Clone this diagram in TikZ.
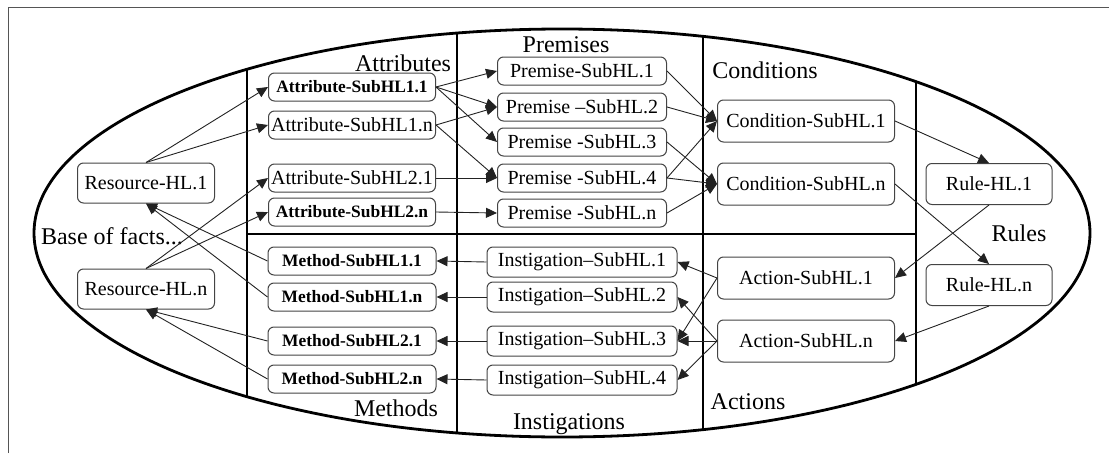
\documentclass[tikz,border=0pt]{standalone}
\usepackage{fontspec}
\setmainfont{Liberation Serif}
\usepackage{tikz}
\usetikzlibrary{arrows.meta}
\definecolor{frameGray}{HTML}{555555}
\definecolor{boxGray}{HTML}{444444}
\definecolor{linkGray}{HTML}{222222}

\begin{document}
\begin{tikzpicture}[x=0.5pt,y=-0.5pt,
  hlbox/.style={draw=boxGray,line width=0.5pt,rounded corners=3pt,inner sep=0pt,
    font=\fontsize{10}{12}\selectfont},
  boldbox/.style={hlbox,font=\fontsize{8.7}{10}\selectfont\bfseries},
  zone/.style={line width=1.4pt},
  zonelabel/.style={font=\fontsize{12}{14}\selectfont,inner sep=0pt},
  link/.style={linkGray,line width=0.45pt,-{Triangle[length=5.5pt,width=5pt]}}]
\useasboundingbox (0,0) rectangle (1109,455);
\draw[frameGray,line width=0.5pt] (8,453) -- (8,7) -- (1109,7);

% ellipse and zones
\draw[zone] (562,233) ellipse [x radius=528,y radius=204];
\begin{scope}
\clip (562,233) ellipse [x radius=528,y radius=204];
\foreach \xs in {247,457,703,916}
  \draw[zone] (\xs,0) -- (\xs,455);
\end{scope}
\draw[zone] (247,234) -- (916,234);

\node[zonelabel] at (403,63) {Attributes};
\node[zonelabel] at (566,45) {Premises};
\node[zonelabel] at (765,70) {Conditions};
\node[zonelabel] at (1019,233) {Rules};
\node[zonelabel] at (748,402) {Actions};
\node[zonelabel] at (569,424) {Instigations};
\node[zonelabel] at (396,408) {Methods};
\node[zonelabel] at (112,236) {Base of facts...};

% resources
\node[hlbox,minimum width=68.5pt,minimum height=20pt] (res1) at (146,183) {Resource-HL.1};
\node[hlbox,minimum width=68.5pt,minimum height=20pt] (resn) at (146,289) {Resource-HL.n};

% attributes and methods
\node[boldbox,minimum width=83.5pt,minimum height=14pt] (att11) at (352,87) {Attribute-SubHL1.1};
\node[hlbox,minimum width=83.5pt,minimum height=14pt] (att1n) at (352,125) {Attribute-SubHL1.n};
\node[hlbox,minimum width=83.5pt,minimum height=14pt] (att21) at (352,178) {Attribute-SubHL2.1};
\node[boldbox,minimum width=83.5pt,minimum height=14pt] (att2n) at (352,212) {Attribute-SubHL2.n};
\node[boldbox,minimum width=84pt,minimum height=14pt] (met11) at (352,261) {Method-SubHL1.1};
\node[boldbox,minimum width=84pt,minimum height=14pt] (met1n) at (352,297) {Method-SubHL1.n};
\node[boldbox,minimum width=84pt,minimum height=14pt] (met21) at (352,341) {Method-SubHL2.1};
\node[boldbox,minimum width=84pt,minimum height=14pt] (met2n) at (352,379) {Method-SubHL2.n};

% premises and instigations
\node[hlbox,minimum width=84.5pt,minimum height=14pt] (pre1) at (582,71) {Premise-SubHL.1};
\node[hlbox,minimum width=84.5pt,minimum height=14pt] (pre2) at (582,107) {Premise --SubHL.2};
\node[hlbox,minimum width=84.5pt,minimum height=14pt] (pre3) at (582,142) {Premise -SubHL.3};
\node[hlbox,minimum width=84.5pt,minimum height=14pt] (pre4) at (582,178) {Premise -SubHL.4};
\node[hlbox,minimum width=84.5pt,minimum height=14pt] (pren) at (582,213) {Premise -SubHL.n};
\node[hlbox,minimum width=95pt,minimum height=15pt] (ins1) at (582,262) {Instigation--SubHL.1};
\node[hlbox,minimum width=95pt,minimum height=15pt] (ins2) at (582,297) {Instigation--SubHL.2};
\node[hlbox,minimum width=95pt,minimum height=15pt] (ins3) at (582,341) {Instigation--SubHL.3};
\node[hlbox,minimum width=95pt,minimum height=15pt] (ins4) at (582,380) {Instigation--SubHL.4};

% conditions, actions, rules
\node[hlbox,minimum width=88.5pt,minimum height=21pt] (cond1) at (806,121) {Condition-SubHL.1};
\node[hlbox,minimum width=88.5pt,minimum height=21pt] (condn) at (806,184) {Condition-SubHL.n};
\node[hlbox,minimum width=88.5pt,minimum height=21pt] (act1) at (806,278) {Action-SubHL.1};
\node[hlbox,minimum width=88.5pt,minimum height=21pt] (actn) at (806,341) {Action-SubHL.n};
\node[hlbox,minimum width=63pt,minimum height=20.5pt] (rule1) at (989,184) {Rule-HL.1};
\node[hlbox,minimum width=63pt,minimum height=20.5pt] (rulen) at (989,285) {Rule-HL.n};

% links
\draw[link] (res1.north) -- (att11.west);
\draw[link] (res1.north) -- (att1n.west);
\draw[link] (resn.north) -- (att21.west);
\draw[link] (resn.north) -- (att2n.west);
\draw[link] (met11.west) -- (res1.south);
\draw[link] (met1n.west) -- (res1.south);
\draw[link] (met21.west) -- (resn.south);
\draw[link] (met2n.west) -- (resn.south);

\draw[link] (att11.east) -- (pre1.west);
\draw[link] (att11.east) -- (pre2.west);
\draw[link] (att11.east) -- (pre3.west);
\draw[link] (att1n.east) -- (pre2.west);
\draw[link] (att1n.east) -- (pre4.west);
\draw[link] (att21.east) -- (pre4.west);
\draw[link] (att2n.east) -- (pren.west);

\draw[link] (pre1.east) -- (cond1.west);
\draw[link] (pre2.east) -- (cond1.west);
\draw[link] (pre4.east) -- (cond1.west);
\draw[link] (pre3.east) -- (condn.west);
\draw[link] (pre4.east) -- (condn.west);
\draw[link] (pren.east) -- (condn.west);

\draw[link] (cond1.east) -- (rule1.north);
\draw[link] (condn.east) -- (rulen.north);
\draw[link] (rule1.south) -- (act1.east);
\draw[link] (rulen.south) -- (actn.east);

\draw[link] (act1.west) -- (ins1.east);
\draw[link] (act1.west) -- (ins3.east);
\draw[link] (actn.west) -- (ins2.east);
\draw[link] (actn.west) -- (ins3.east);
\draw[link] (actn.west) -- (ins4.east);

\foreach \i/\m in {1/met11,2/met1n,3/met21,4/met2n}
  \draw[link] (ins\i.west) -- (\m.east);
\end{tikzpicture}
\end{document}
